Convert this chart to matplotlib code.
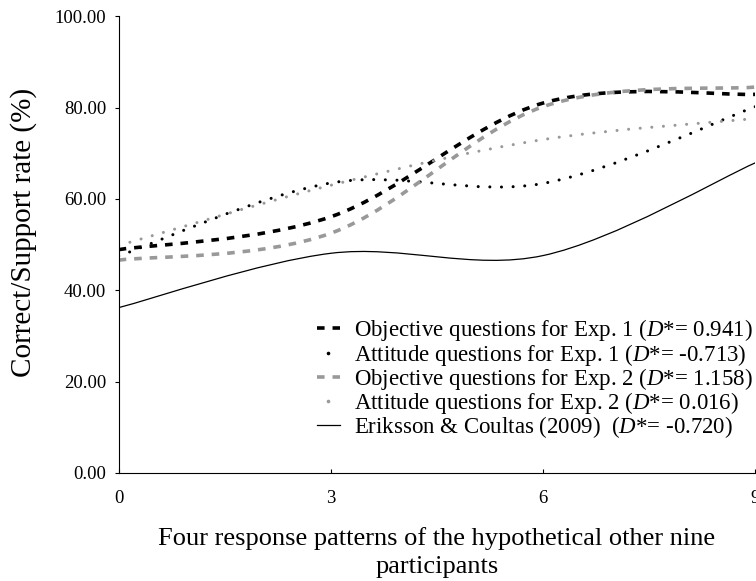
import numpy as np
import matplotlib
matplotlib.use('Agg')
import matplotlib.pyplot as plt
from matplotlib.path import Path
from matplotlib.patches import PathPatch
from matplotlib.lines import Line2D

plt.rcParams['font.family'] = ['Liberation Serif', 'DejaVu Serif']
plt.rcParams['mathtext.fontset'] = 'custom'
plt.rcParams['mathtext.rm'] = 'Liberation Serif'
plt.rcParams['mathtext.it'] = 'Liberation Serif:italic'

# data
x_vals = [0, 3, 6, 9]
obj_exp1 = [48.9, 56.1, 81.0, 82.9]
att_exp1 = [47.5, 63.5, 63.4, 80.2]
obj_exp2 = [46.6, 52.5, 80.2, 84.5]
att_exp2 = [49.8, 63.0, 73.0, 77.6]
eriksson = [36.2, 48.1, 47.6, 67.9]

labels = [
    'Objective questions for Exp. 1 ($\\it{D}$*= 0.941)',
    'Attitude questions for Exp. 1 ($\\it{D}$*= -0.713)',
    'Objective questions for Exp. 2 ($\\it{D}$*= 1.158)',
    'Attitude questions for Exp. 2 ($\\it{D}$*= 0.016)',
    'Eriksson & Coultas (2009)  ($\\it{D}$*= -0.720)',
]


def smooth_path(xs, ys):
    # excel style smoothed line: cubic bezier through every point
    pts = np.column_stack([xs, ys]).astype(float)
    n = len(pts)
    verts = [pts[0]]
    codes = [Path.MOVETO]
    for i in range(n - 1):
        p0 = pts[i - 1] if i > 0 else pts[i]
        p1 = pts[i]
        p2 = pts[i + 1]
        p3 = pts[i + 2] if i + 2 < n else pts[i + 1]
        c1 = p1 + (p2 - p0) / 6.0
        c2 = p2 - (p3 - p1) / 6.0
        verts += [c1, c2, p2]
        codes += [Path.CURVE4] * 3
    return Path(verts, codes)


fig = plt.figure(figsize=(7.56, 5.81), dpi=100)
ax = fig.add_axes([0.157, 0.186, 0.842, 0.786])

grey = '#999999'
dash = (0, (2.1, 2.2))
dot = (0, (0.01, 3.8))
styles = [
    dict(color='black', lw=2.6, ls=dash, capstyle='butt'),
    dict(color='black', lw=2.2, ls=dot, capstyle='round'),
    dict(color=grey, lw=2.6, ls=dash, capstyle='butt'),
    dict(color=grey, lw=2.2, ls=dot, capstyle='round'),
    dict(color='black', lw=0.9, ls='-', capstyle='butt'),
]
series = [obj_exp1, att_exp1, obj_exp2, att_exp2, eriksson]

handles = []
for ys, st in zip(series, styles):
    patch = PathPatch(smooth_path(x_vals, ys), fill=False, edgecolor=st['color'],
                      lw=st['lw'], ls=st['ls'], capstyle=st['capstyle'])
    ax.add_patch(patch)
    if st['ls'] == dot:
        h = Line2D([], [], color=st['color'], ls='none', marker='o',
                   markersize=2.6, markeredgewidth=0)
    else:
        h = Line2D([], [], color=st['color'], lw=st['lw'], ls=st['ls'])
    handles.append(h)

ax.set_xlim(0, 9)
ax.set_ylim(0, 100)
ax.set_xticks(x_vals)
ax.set_yticks(np.arange(0, 101, 20))
ax.set_yticklabels(['%.2f' % v for v in np.arange(0, 101, 20)])
ax.spines['top'].set_visible(False)
ax.spines['right'].set_visible(False)
ax.tick_params(axis='both', labelsize=13.5, length=3, width=0.8)
ax.tick_params(axis='x', direction='in', pad=12)
ax.tick_params(axis='y', direction='out', pad=6)

ax.set_ylabel('Correct/Support rate (%)', fontsize=21, va='center')
ax.yaxis.set_label_coords(-0.149, 0.527)
ax.set_xlabel('Four response patterns of the hypothetical other nine\nparticipants',
              fontsize=19, labelpad=15, linespacing=1.3)

leg = ax.legend(handles, labels, loc='lower right', bbox_to_anchor=(0.997, 0.072),
                frameon=False, fontsize=16.5, handlelength=1.0, labelspacing=-0.08,
                handletextpad=0.65, borderaxespad=0, borderpad=0, numpoints=1)

fig.savefig('out.png', dpi=100)
